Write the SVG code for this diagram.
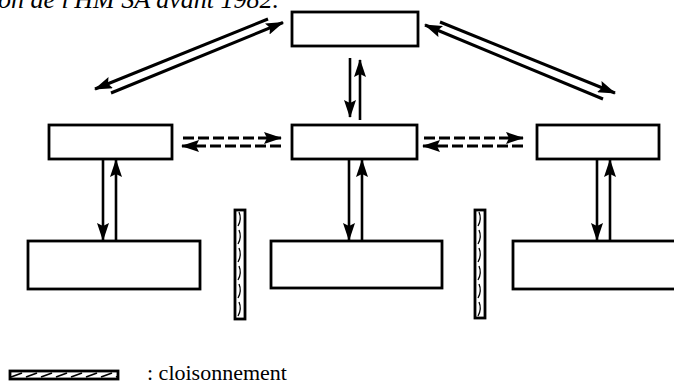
<svg xmlns="http://www.w3.org/2000/svg" width="674" height="385" viewBox="0 0 674 385">
  <defs>
    <marker id="ah" markerUnits="userSpaceOnUse" markerWidth="18" markerHeight="12" refX="17" refY="6" orient="auto">
      <path d="M0,0 L18,6 L0,12 L3,6 z" fill="#000"/>
    </marker>
    <pattern id="hatchV" patternUnits="userSpaceOnUse" x="235" y="210" width="10" height="18">
      <path d="M3,16 Q7,9 4,2" fill="none" stroke="#000" stroke-width="1.3"/>
    </pattern>
    <pattern id="hatchH" patternUnits="userSpaceOnUse" x="10" y="371" width="15" height="8">
      <path d="M1,6 L12,2" fill="none" stroke="#000" stroke-width="1.8"/>
    </pattern>
  </defs>
  <style>
    .box { fill: #fff; stroke: #000; stroke-width: 2.8; }
    .ln { fill: none; stroke: #000; stroke-width: 2.6; }
    .dg { fill: none; stroke: #000; stroke-width: 3; }
    .dash { fill: none; stroke: #000; stroke-width: 3.2; stroke-dasharray: 11 4; }
    .bar { stroke: #000; stroke-width: 2.8; }
    .title { font-family: "Liberation Serif", "Times New Roman", serif; font-style: italic; font-size: 26px; fill: #000; }
    .legend { font-family: "Liberation Serif", "Times New Roman", serif; font-size: 22px; fill: #000; }
  </style>
  <rect width="674" height="385" fill="#fff"/>
  <text class="title" x="-2" y="8">on de l'HM SA avant 1982.</text>

  <g id="top"><rect class="box" x="292" y="12" width="126" height="34"/></g>
  <g id="mid-left"><rect class="box" x="49" y="125" width="123" height="34"/></g>
  <g id="mid-center"><rect class="box" x="292" y="125" width="125" height="34"/></g>
  <g id="mid-right"><rect class="box" x="537" y="125" width="122" height="34"/></g>
  <g id="bot-left"><rect class="box" x="28" y="241" width="172" height="48"/></g>
  <g id="bot-center"><rect class="box" x="271" y="241" width="171" height="47"/></g>
  <g id="bot-right"><rect class="box" x="513" y="241" width="170" height="48"/></g>

  <g id="partition-1"><rect class="bar" x="235" y="210" width="10" height="109" fill="url(#hatchV)"/></g>
  <g id="partition-2"><rect class="bar" x="475" y="210" width="10" height="108" fill="url(#hatchV)"/></g>

  <g id="connectors">
    <line class="dg" x1="268" y1="19" x2="95" y2="89" marker-end="url(#ah)"/>
    <line class="dg" x1="111" y1="93" x2="283" y2="22.5" marker-end="url(#ah)"/>
    <line class="dg" x1="440" y1="22" x2="615" y2="93" marker-end="url(#ah)"/>
    <line class="dg" x1="603" y1="99" x2="425" y2="25" marker-end="url(#ah)"/>

    <line class="ln" x1="350" y1="58" x2="350" y2="117" marker-end="url(#ah)"/>
    <line class="ln" x1="360" y1="120" x2="360" y2="60" marker-end="url(#ah)"/>

    <line class="dash" x1="183" y1="138" x2="281" y2="138" marker-end="url(#ah)"/>
    <line class="dash" x1="281" y1="146" x2="182" y2="146" marker-end="url(#ah)"/>
    <line class="dash" x1="424" y1="138" x2="523" y2="138" marker-end="url(#ah)"/>
    <line class="dash" x1="523" y1="146" x2="423" y2="146" marker-end="url(#ah)"/>

    <line class="ln" x1="103" y1="160" x2="103" y2="240" marker-end="url(#ah)"/>
    <line class="ln" x1="116" y1="240" x2="116" y2="160" marker-end="url(#ah)"/>
    <line class="ln" x1="349" y1="160" x2="349" y2="240" marker-end="url(#ah)"/>
    <line class="ln" x1="362" y1="240" x2="362" y2="160" marker-end="url(#ah)"/>
    <line class="ln" x1="597" y1="160" x2="597" y2="240" marker-end="url(#ah)"/>
    <line class="ln" x1="610" y1="240" x2="610" y2="160" marker-end="url(#ah)"/>
  </g>

  <g id="legend">
    <rect class="bar" x="10" y="371" width="108" height="8" fill="url(#hatchH)"/>
    <text class="legend" x="147" y="380">: cloisonnement</text>
  </g>
</svg>
